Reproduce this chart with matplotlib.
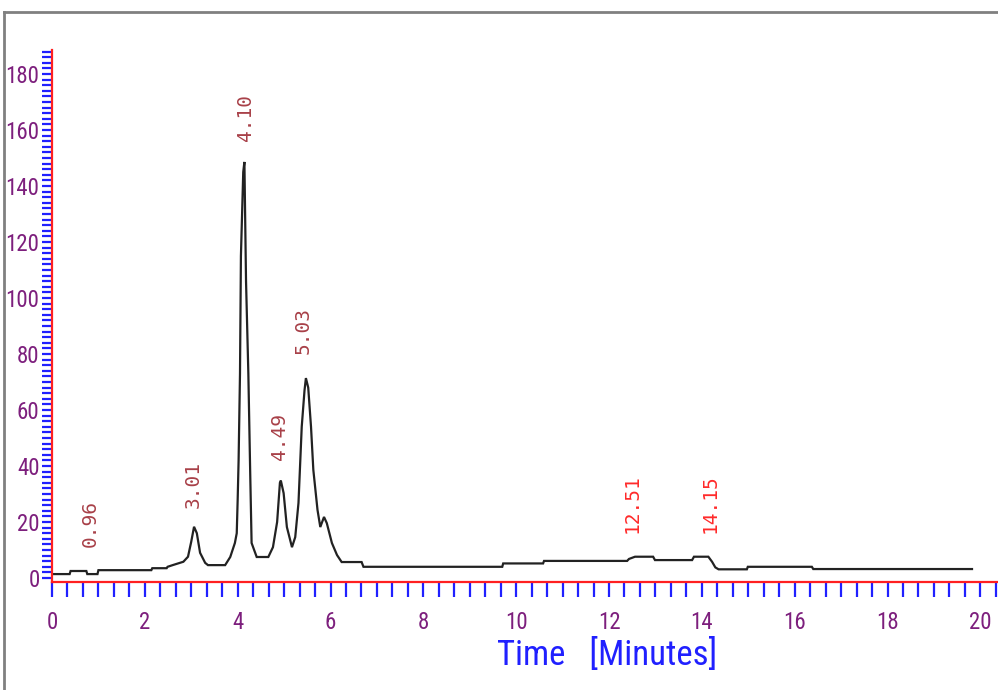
import numpy as np
import matplotlib
matplotlib.use("Agg")
import matplotlib.pyplot as plt
from matplotlib.ticker import FixedLocator, MultipleLocator
from matplotlib.lines import Line2D
from matplotlib import font_manager

# ---- data ----
trace_time = [0.0, 0.38, 0.40, 0.74, 0.76, 0.98, 1.0, 2.14, 2.16, 2.47, 2.49, 2.6, 2.83, 2.93,
              3.0, 3.06, 3.12, 3.19, 3.3, 3.36, 3.73, 3.84, 3.94, 3.98, 4.0, 4.02, 4.05, 4.07,
              4.12, 4.145, 4.18, 4.23, 4.27, 4.3, 4.41, 4.66, 4.76, 4.85, 4.91, 4.93, 4.99,
              5.06, 5.17, 5.24, 5.31, 5.38, 5.44, 5.47, 5.52, 5.58, 5.63, 5.72, 5.78, 5.86,
              5.92, 6.03, 6.14, 6.24, 6.67, 6.71, 9.7, 9.72, 10.58, 10.6, 12.39, 12.43, 12.56,
              12.95, 12.99, 13.79, 13.83, 14.14, 14.22, 14.29, 14.36, 14.97, 14.99, 16.37,
              16.4, 19.82]
trace_signal = [1.4, 1.4, 2.5, 2.5, 1.4, 1.4, 2.8, 2.8, 3.5, 3.5, 4.0, 4.6, 5.8, 7.6,
                13.0, 18.3, 16.0, 9.0, 5.4, 4.6, 4.6, 7.5, 12.5, 16.0, 28.0, 42.0, 73.0, 115.0,
                145.0, 148.6, 106.0, 73.0, 37.5, 12.5, 7.5, 7.5, 11.0, 20.0, 34.0, 34.8, 30.3,
                18.2, 11.0, 14.6, 26.8, 54.0, 67.0, 71.4, 68.0, 54.0, 38.6, 24.3, 18.2, 21.8,
                19.6, 12.5, 8.2, 5.7, 5.7, 4.0, 4.0, 5.2, 5.2, 6.1, 6.1, 6.8, 7.6,
                7.6, 6.4, 6.4, 7.6, 7.6, 5.8, 3.8, 3.1, 3.1, 4.0, 4.0,
                3.2, 3.2]

peak_labels = ["0.96", "3.01", "4.10", "4.49", "5.03", "12.51", "14.15"]
peak_label_x = [0.82, 3.04, 4.16, 4.91, 5.41, 12.50, 14.18]
peak_label_y = [11, 25, 156, 42, 80, 16, 16]
peak_label_colors = ["#a84048", "#a84048", "#a84048", "#a84048", "#a84048", "#ff2a2a", "#ff2a2a"]

x_major_ticks = [0, 2, 4, 6, 8, 10, 12, 14, 16, 18, 20]
y_major_ticks = [0, 20, 40, 60, 80, 100, 120, 140, 160, 180]
x_label = "Time   [Minutes]"

# pick a condensed font if one is installed
names = {f.name for f in font_manager.fontManager.ttflist}
narrow = None
for cand in ["Liberation Sans Narrow", "DejaVu Sans Condensed", "Roboto Condensed",
             "Open Sans Condensed", "Noto Sans Condensed"]:
    if cand in names:
        narrow = cand
        break
tick_font = [narrow, "DejaVu Sans"] if narrow else ["DejaVu Sans"]

# ---- figure ----
W, H = 998, 690
fig = plt.figure(figsize=(W / 100, H / 100), dpi=100)
fig.patch.set_facecolor("white")

# gray frame (top + left)
fig.add_artist(Line2D([4 / W, 4 / W], [0, 1 - 12 / H], transform=fig.transFigure,
                      color="#808080", lw=2))
fig.add_artist(Line2D([4 / W, 1], [1 - 12 / H, 1 - 12 / H], transform=fig.transFigure,
                      color="#808080", lw=2))

left_px, right_px, top_px, bottom_px = 52, 998, 50.2, 582.2
ax = fig.add_axes([left_px / W, 1 - bottom_px / H, (right_px - left_px) / W,
                   (bottom_px - top_px) / H])
ax.set_facecolor("none")
ax.set_xlim(0, 20.38)
ax.set_ylim(-1.5, 188.5)

for s in ["top", "right"]:
    ax.spines[s].set_visible(False)
for s in ["left", "bottom"]:
    ax.spines[s].set_color("#ff2020")
    ax.spines[s].set_linewidth(1.6)

ax.plot(trace_time, trace_signal, color="#222222", lw=1.6, solid_joinstyle="miter")

purple = "#7d1f7d"
ax.xaxis.set_major_locator(FixedLocator(x_major_ticks))
ax.xaxis.set_minor_locator(FixedLocator(np.arange(0, 20.4, 1 / 3)))
ax.yaxis.set_major_locator(FixedLocator(y_major_ticks))
ax.yaxis.set_minor_locator(MultipleLocator(2))
ax.tick_params(axis="x", which="both", direction="out", length=11, width=1.6,
               color="#2020ff", pad=10, labelcolor=purple, labelsize=16.5)
ax.tick_params(axis="y", which="both", direction="out", length=7, width=1.6,
               color="#2020ff", pad=2, labelcolor=purple, labelsize=16.5)
for lab in ax.get_xticklabels() + ax.get_yticklabels():
    lab.set_family(tick_font)

for txt, x, y, c in zip(peak_labels, peak_label_x, peak_label_y, peak_label_colors):
    ax.text(x, y, txt, rotation=90, ha="center", va="bottom", color=c,
            fontsize=14, family=["DejaVu Sans Mono", "DejaVu Sans"])

fig.text(607 / W, 1 - 655 / H, x_label, color="#2020ff", fontsize=25,
         ha="center", va="center", family=tick_font)

fig.savefig("out.png", dpi=100)
